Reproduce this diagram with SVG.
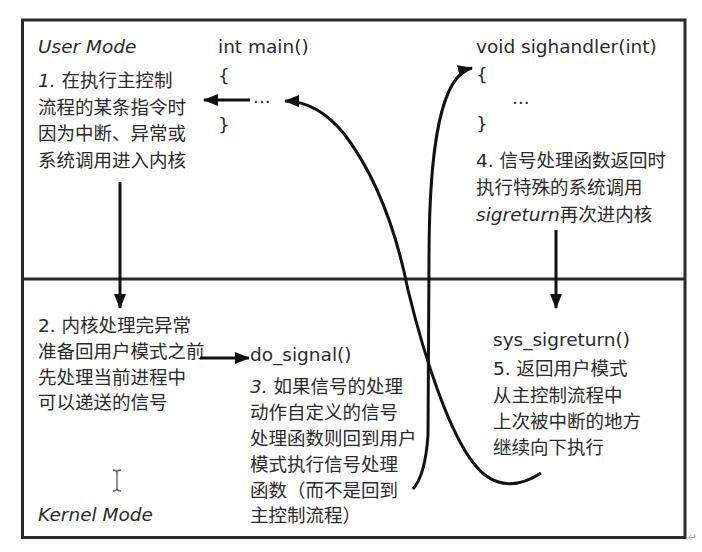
<svg xmlns="http://www.w3.org/2000/svg" width="702" height="552" viewBox="0 0 702 552">
<style>
text{font-family:"DejaVu Sans","Noto Sans CJK SC",sans-serif;font-size:18.5px;fill:#2a2a2a}
.it{font-style:italic}
.frame{fill:none;stroke:#2a2a2a;stroke-width:3}
.conn{fill:none;stroke:#111;stroke-width:3;stroke-linecap:butt}
</style>
<defs>
<marker id="ah" viewBox="0 0 15 12" markerWidth="15" markerHeight="12" refX="14" refY="6" orient="auto" markerUnits="userSpaceOnUse">
<path d="M0,0 L15,6 L0,12 z" fill="#111"/>
</marker>
</defs>
<rect width="702" height="552" fill="#fff"/>
<g id="frame">
<rect class="frame" x="22.5" y="20" width="662.5" height="517.5"/>
<line class="frame" x1="22.5" y1="279" x2="685" y2="279"/>
</g>
<g id="user-mode-label"><text class="it" x="38" y="53">User Mode</text></g>
<g id="kernel-mode-label"><text class="it" x="38" y="521">Kernel Mode</text></g>
<g id="step1">
<text x="38" y="87"><tspan class="it">1.</tspan> 在执行主控制</text>
<text x="38" y="113.5">流程的某条指令时</text>
<text x="38" y="140">因为中断、异常或</text>
<text x="38" y="167">系统调用进入内核</text>
</g>
<g id="main">
<text x="218" y="53">int main()</text>
<text x="218" y="82">{</text>
<text x="253" y="103">...</text>
<text x="218" y="131">}</text>
</g>
<g id="sighandler">
<text x="476" y="53">void sighandler(int)</text>
<text x="476" y="81">{</text>
<text x="512" y="104">...</text>
<text x="476" y="130">}</text>
</g>
<g id="step4">
<text x="476" y="167">4. 信号处理函数返回时</text>
<text x="476" y="194">执行特殊的系统调用</text>
<text x="476" y="221"><tspan class="it">sigreturn</tspan>再次进内核</text>
</g>
<g id="step2">
<text x="38" y="332">2. 内核处理完异常</text>
<text x="38" y="358">准备回用户模式之前</text>
<text x="38" y="383.5">先处理当前进程中</text>
<text x="38" y="409">可以递送的信号</text>
</g>
<g id="do-signal">
<text x="250" y="361">do_signal()</text>
<text x="250" y="393"><tspan class="it">3.</tspan> 如果信号的处理</text>
<text x="250" y="419">动作自定义的信号</text>
<text x="250" y="445">处理函数则回到用户</text>
<text x="250" y="471">模式执行信号处理</text>
<text x="250" y="497">函数（而不是回到</text>
<text x="250" y="522">主控制流程）</text>
</g>
<g id="sys-sigreturn">
<text x="493" y="346">sys_sigreturn()</text>
<text x="493" y="375">5. 返回用户模式</text>
<text x="493" y="402">从主控制流程中</text>
<text x="493" y="428">上次被中断的地方</text>
<text x="493" y="454">继续向下执行</text>
</g>
<g id="connectors">
<path class="conn" d="M250,100 L204,100" marker-end="url(#ah)"/>
<path class="conn" d="M120,182 L120,308" marker-end="url(#ah)"/>
<path class="conn" d="M200,358 L249,358" marker-end="url(#ah)"/>
<path class="conn" d="M556,230 L556,308" marker-end="url(#ah)"/>
<path class="conn" d="M541,473 C520,487 495,490 475,465 C450,435 425,360 408,290 C395,225 375,175 345,135 C325,110 305,101 285,101" marker-end="url(#ah)"/>
<path class="conn" d="M413,489 C421,480 426,465 428,435 L429,260 C429,150 440,75 472,68" marker-end="url(#ah)"/>
</g>
<g id="cursor" fill="none" stroke="#555" stroke-width="1.3">
<path d="M113,470 Q117,470 117,473 Q117,470 121,470 M117,473 L117,488 M113,491 Q117,491 117,488 Q117,491 121,491"/>
</g>
<text x="688" y="541" style="font-size:11px;fill:#aaa">↵</text>
</svg>
